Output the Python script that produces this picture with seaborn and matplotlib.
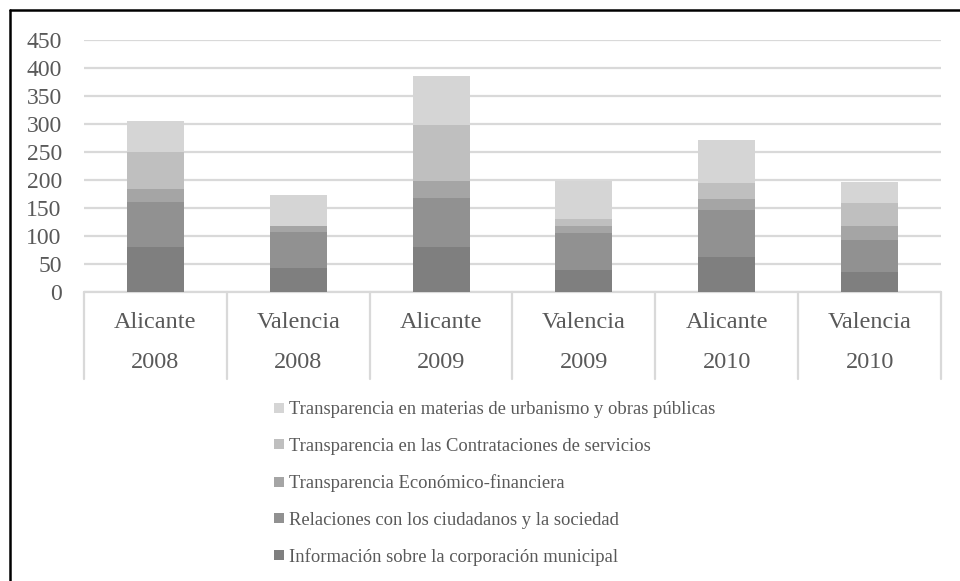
import numpy as np
import pandas as pd
import matplotlib
matplotlib.use("Agg")
import matplotlib.pyplot as plt
from matplotlib.lines import Line2D
import matplotlib.transforms as mtransforms
import seaborn as sns

cities = ["Alicante", "Valencia", "Alicante", "Valencia", "Alicante", "Valencia"]
years = ["2008", "2008", "2009", "2009", "2010", "2010"]

series_names = [
    "Información sobre la corporación municipal",
    "Relaciones con los ciudadanos y la sociedad",
    "Transparencia Económico-financiera",
    "Transparencia en las Contrataciones de servicios",
    "Transparencia en materias de urbanismo y obras públicas",
]
info = [80, 42, 80, 39, 62, 35]
relaciones = [80, 66, 87, 67, 84, 57]
economico = [24, 9, 32, 11, 20, 25]
contrataciones = [66, 0, 100, 14, 28, 42]
urbanismo = [55, 57, 87, 67, 78, 38]
series_values = [info, relaciones, economico, contrataciones, urbanismo]
colors = ["#7f7f7f", "#919191", "#a5a5a5", "#bfbfbf", "#d5d5d5"]

sns.set_theme(style="white")
plt.rcParams["font.family"] = ["Liberation Serif", "DejaVu Serif"]
text_color = "#595959"
grid_color = "#d9d9d9"

keys = [f"{c}\n{y}" for c, y in zip(cities, years)]
cum = np.cumsum(np.array(series_values, dtype=float), axis=0)

fig = plt.figure(figsize=(9.6, 5.81), dpi=100)
W, H = 960, 581
ax = fig.add_axes([84 / W, 1 - 292 / H, (941 - 84) / W, (292 - 40) / H])

for i in reversed(range(len(series_names))):
    df = pd.DataFrame({"cat": keys, "val": cum[i]})
    sns.barplot(data=df, x="cat", y="val", order=keys, color=colors[i],
                saturation=1, width=0.4, ax=ax, zorder=3, linewidth=0)

ax.set_xlim(-0.5, len(keys) - 0.5)
ax.set_ylim(0, 450)
ax.set_yticks(np.arange(0, 451, 50))
ax.yaxis.grid(True, color=grid_color, linewidth=1.6, zorder=0)
ax.set_axisbelow(True)
for s in ["top", "right", "left", "bottom"]:
    ax.spines[s].set_visible(False)
ax.tick_params(axis="y", length=0, pad=16, labelsize=17, labelcolor=text_color)
ax.set_xticks([])
ax.set_xlabel("")
ax.set_ylabel("")
for lab in ax.get_yticklabels():
    lab.set_fontfamily(["Liberation Serif"])

# category axis (two levels)
trans = mtransforms.blended_transform_factory(ax.transData, fig.transFigure)
ax.add_line(Line2D([-0.5, len(keys) - 0.5], [1 - 292 / H, 1 - 292 / H], transform=trans,
                   color=grid_color, lw=1.6, clip_on=False))
for b in np.arange(-0.5, len(keys), 1.0):
    ax.add_line(Line2D([b, b], [1 - 292 / H, 1 - 379 / H], transform=trans,
                       color=grid_color, lw=1.6, clip_on=False))
for i, (c, y) in enumerate(zip(cities, years)):
    ax.text(i, 1 - 322 / H, c, transform=trans, ha="center", va="center",
            fontsize=17.5, color=text_color)
    ax.text(i, 1 - 362 / H, y, transform=trans, ha="center", va="center",
            fontsize=17.5, color=text_color)

# legend
handles = [Line2D([], [], marker="s", linestyle="none", markersize=6.5,
                  markerfacecolor=colors[i], markeredgewidth=0)
           for i in reversed(range(len(series_names)))]
labels = list(reversed(series_names))
fig.legend(handles, labels, loc="upper left", bbox_to_anchor=(272 / W, 1 - 401 / H),
           frameon=False, fontsize=13.4, labelcolor=text_color, handlelength=0.7,
           handletextpad=0.2, labelspacing=1.05, borderaxespad=0, borderpad=0)

# outer border (left and top)
fig.add_artist(Line2D([9.5 / W, 9.5 / W], [0, 1 - 10 / H], transform=fig.transFigure,
                      color="black", lw=1.8))
fig.add_artist(Line2D([9.5 / W, 1], [1 - 10 / H, 1 - 10 / H], transform=fig.transFigure,
                      color="black", lw=1.8))

fig.savefig("out.png", dpi=100, facecolor="white")
